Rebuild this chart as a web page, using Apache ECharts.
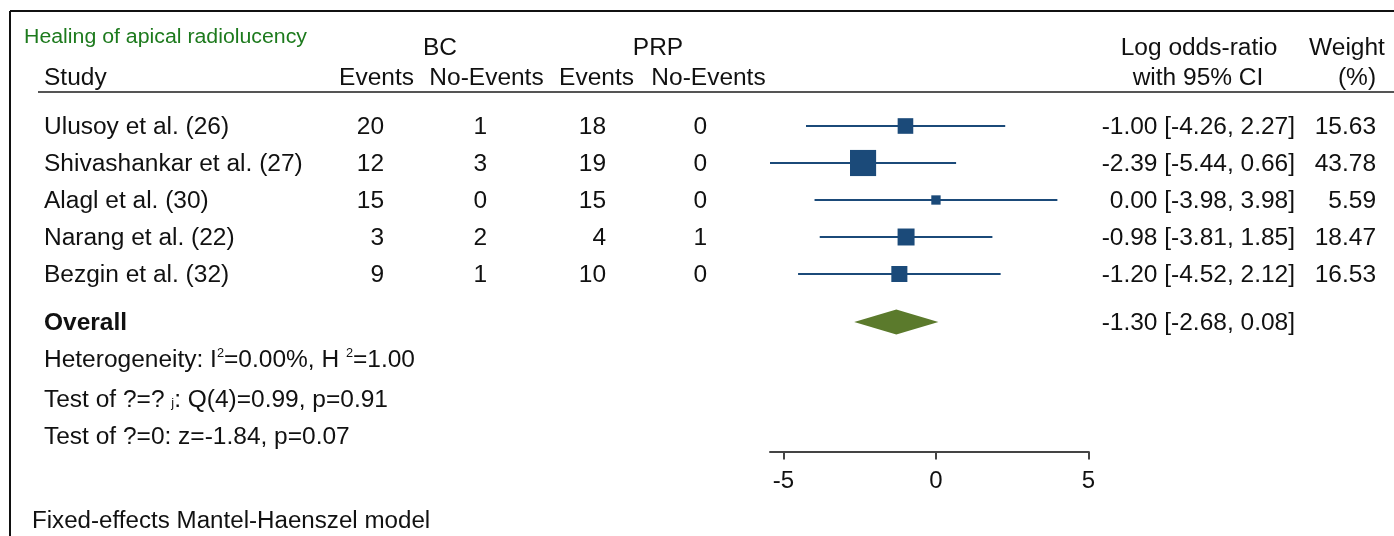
<!DOCTYPE html>
<html>
<head>
<meta charset="utf-8">
<script src="https://cdn.jsdelivr.net/npm/echarts@6/dist/echarts.min.js"></script>
<style>
html,body{margin:0;padding:0;background:#fff;}
#chart{width:1394px;height:536px;}
</style>
</head>
<body>
<div id="chart"></div>
<script>
// ---- data ----
const studies = ['Ulusoy et al. (26)', 'Shivashankar et al. (27)', 'Alagl et al. (30)', 'Narang et al. (22)', 'Bezgin et al. (32)'];
const bcEvents = [20, 12, 15, 3, 9];
const bcNoEvents = [1, 3, 0, 2, 1];
const prpEvents = [18, 19, 15, 4, 10];
const prpNoEvents = [0, 0, 0, 1, 0];
const logOR = [-1.00, -2.39, 0.00, -0.98, -1.20];
const ciLow = [-4.26, -5.44, -3.98, -3.81, -4.52];
const ciHigh = [2.27, 0.66, 3.98, 1.85, 2.12];
const weights = [15.63, 43.78, 5.59, 18.47, 16.53];
const overallEst = [-1.30];
const overallLow = [-2.68];
const overallHigh = [0.08];
const xTicks = [-5, 0, 5];
const headerGroups = ['BC', 'PRP'];
const headerCols = ['Events', 'No-Events', 'Events', 'No-Events'];
const stats = [
  'Heterogeneity: I{sup|2}=0.00%, H {sup|2}=1.00',
  'Test of ?=? {sub|j}: Q(4)=0.99, p=0.91',
  'Test of ?=0: z=-1.84, p=0.07'
];

// ---- style / layout ----
const FONT = '"Liberation Sans", Arial, sans-serif';
const FS = 23;
const SX = 1.065;
const TY = 1.5;
const BLUE = '#1b4a79';
const GREEN = '#5b7a2c';
const OVERALL_ROW = 5.3;

const chart = echarts.init(document.getElementById('chart'), null, {renderer: 'canvas'});

function txt(text, x, y, align, extra) {
  extra = extra || {};
  return {
    type: 'text', x: x, y: y + TY, scaleX: extra.scaleX || SX,
    style: Object.assign({
      text: text, x: 0, y: 0, align: align, verticalAlign: 'middle',
      fontFamily: FONT, fontSize: FS, fill: '#111',
      rich: {
        sup: {fontSize: 12, verticalAlign: 'top', padding: [0, 0, 13, 0], fontFamily: FONT, fill: '#111'},
        sub: {fontSize: 12, fontFamily: FONT, fill: '#111', padding: [7, 0, 0, 0]}
      }
    }, extra.style || {})
  };
}

const colX = [384, 487, 606, 707];
const ciRightX = 1295;
const wRightX = 1376;

const graphics = [
  {type: 'line', shape: {x1: 10, y1: 11, x2: 1394, y2: 11}, style: {stroke: '#111', lineWidth: 2}},
  {type: 'line', shape: {x1: 10, y1: 11, x2: 10, y2: 536}, style: {stroke: '#111', lineWidth: 2}},
  {type: 'line', shape: {x1: 38, y1: 92, x2: 1394, y2: 92}, style: {stroke: '#555', lineWidth: 2}},
  txt('Healing of apical radiolucency', 24, 36, 'left', {style: {fill: '#1d7a1d', fontSize: 20}}),
  txt(headerGroups[0], 440, 47, 'center'),
  txt(headerGroups[1], 658, 47, 'center'),
  txt('Study', 44, 77, 'left'),
  txt(headerCols[0], 376.5, 77, 'center'),
  txt(headerCols[1], 486.5, 77, 'center'),
  txt(headerCols[2], 596.5, 77, 'center'),
  txt(headerCols[3], 708.5, 77, 'center'),
  txt('Log odds-ratio', 1199, 47, 'center'),
  txt('with 95% CI', 1198, 77, 'center'),
  txt('Weight', 1347, 47, 'center'),
  txt('(%)', 1357, 77, 'center'),
  txt(stats[0], 44, 359, 'left'),
  txt(stats[1], 44, 399, 'left'),
  txt(stats[2], 44, 436, 'left'),
  txt('Fixed-effects Mantel-Haenszel model', 32, 520, 'left', {scaleX: 1.05})
];

function fmt(v) { return v.toFixed(2); }

const option = {
  animation: false,
  backgroundColor: '#fff',
  grid: {left: 770, right: 305.5, top: 15, bottom: 84.4, containLabel: false},
  xAxis: {
    type: 'value', min: -5.44, max: 5,
    splitLine: {show: false},
    axisLine: {show: true, onZero: false, lineStyle: {color: '#444', width: 2}},
    axisTick: {show: true, customValues: xTicks, length: 8, lineStyle: {color: '#444', width: 2}},
    axisLabel: {show: true, customValues: xTicks, fontSize: 24, color: '#111', fontFamily: FONT, margin: 18}
  },
  yAxis: {
    type: 'value', inverse: true, min: -3, max: 8.8, show: false, splitLine: {show: false}
  },
  graphic: graphics,
  series: [
    {
      type: 'custom', name: 'studies', clip: false,
      data: studies.map((s, i) => [logOR[i], ciLow[i], ciHigh[i], weights[i], i]),
      encode: {x: [0, 1, 2], y: 4},
      renderItem: function (params, api) {
        const est = api.value(0), lo = api.value(1), hi = api.value(2), w = api.value(3), row = api.value(4);
        const p0 = api.coord([lo, row]), p1 = api.coord([hi, row]), c = api.coord([est, row]);
        const s = Math.sqrt(w) * 3.95;
        return {
          type: 'group',
          children: [
            {type: 'line', shape: {x1: p0[0], y1: p0[1], x2: p1[0], y2: p1[1]}, style: {stroke: BLUE, lineWidth: 2}},
            {type: 'rect', shape: {x: c[0] - s / 2, y: c[1] - s / 2, width: s, height: s}, style: {fill: BLUE}}
          ]
        };
      }
    },
    {
      type: 'custom', name: 'table', clip: false, silent: true,
      data: studies.map((s, i) => [0, i]),
      encode: {x: 0, y: 1},
      renderItem: function (params, api) {
        const i = params.dataIndex;
        const y = api.coord([0, api.value(1)])[1];
        return {
          type: 'group',
          children: [
            txt(studies[i], 44, y, 'left'),
            txt(String(bcEvents[i]), colX[0], y, 'right'),
            txt(String(bcNoEvents[i]), colX[1], y, 'right'),
            txt(String(prpEvents[i]), colX[2], y, 'right'),
            txt(String(prpNoEvents[i]), colX[3], y, 'right'),
            txt(fmt(logOR[i]) + ' [' + fmt(ciLow[i]) + ', ' + fmt(ciHigh[i]) + ']', ciRightX, y, 'right'),
            txt(fmt(weights[i]), wRightX, y, 'right')
          ]
        };
      }
    },
    {
      type: 'custom', name: 'overall', clip: false,
      data: overallEst.map((e, i) => [e, overallLow[i], overallHigh[i], OVERALL_ROW]),
      encode: {x: [0, 1, 2], y: 3},
      renderItem: function (params, api) {
        const est = api.value(0), lo = api.value(1), hi = api.value(2), row = api.value(3);
        const pl = api.coord([lo, row]), pr = api.coord([hi, row]), c = api.coord([est, row]);
        const h = 12.5;
        return {
          type: 'group',
          children: [
            {type: 'polygon', shape: {points: [[pl[0], c[1]], [c[0], c[1] - h], [pr[0], c[1]], [c[0], c[1] + h]]}, style: {fill: GREEN}},
            txt('Overall', 44, c[1], 'left', {style: {fontWeight: 'bold'}}),
            txt(fmt(est) + ' [' + fmt(lo) + ', ' + fmt(hi) + ']', ciRightX, c[1], 'right')
          ]
        };
      }
    }
  ]
};
chart.setOption(option);
</script>
</body>
</html>
